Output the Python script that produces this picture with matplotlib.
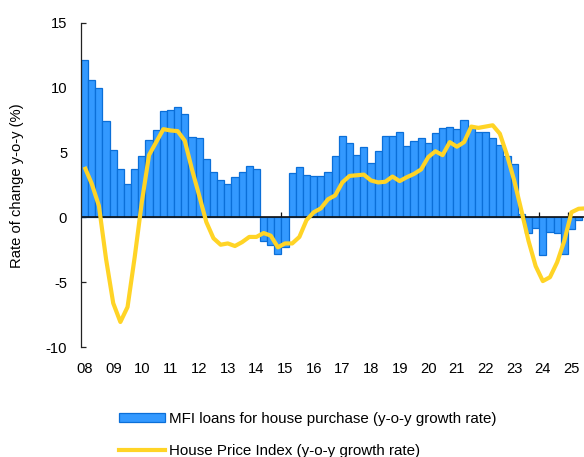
import matplotlib
matplotlib.use("Agg")
import matplotlib.pyplot as plt
from matplotlib.patches import Patch
from matplotlib.lines import Line2D

plt.rcParams['font.family'] = ['Liberation Sans', 'DejaVu Sans']
plt.rcParams['axes.unicode_minus'] = False

# Year tick labels (2008-2025), quarterly data
year_labels = ["08", "09", "10", "11", "12", "13", "14", "15", "16",
               "17", "18", "19", "20", "21", "22", "23", "24", "25"]

# MFI loans for house purchase, y-o-y growth (%), quarterly 2008Q1-2025Q2
mfi_loans = [12.1, 10.6, 10.0, 7.4, 5.2, 3.7, 2.6, 3.7, 4.7, 6.0,
             6.7, 8.2, 8.3, 8.5, 8.0, 6.2, 6.1, 4.5, 3.5, 2.9,
             2.6, 3.1, 3.5, 4.0, 3.7, -1.8, -2.1, -2.8, -2.3, 3.4,
             3.9, 3.3, 3.2, 3.2, 3.5, 4.7, 6.3, 5.7, 4.8, 5.4,
             4.2, 5.1, 6.3, 6.3, 6.6, 5.5, 5.9, 6.1, 5.7, 6.5,
             6.9, 7.0, 6.8, 7.5, 7.0, 6.6, 6.6, 6.1, 5.6, 4.7,
             4.1, 0.3, -1.2, -0.8, -2.9, -1.1, -1.2, -2.8, -0.9, -0.2]

# House Price Index, y-o-y growth (%), quarterly 2008Q1-2025Q3
hpi = [3.9, 2.6, 0.9, -3.2, -6.6, -8.05, -6.9, -3.05, 1.2, 4.8,
       5.8, 6.8, 6.7, 6.65, 5.9, 3.7, 1.7, -0.35, -1.6, -2.1,
       -2.0, -2.2, -1.9, -1.5, -1.5, -1.2, -1.4, -2.3, -2.0, -2.0,
       -1.5, -0.2, 0.4, 0.7, 1.4, 1.7, 2.7, 3.2, 3.25, 3.3,
       2.85, 2.7, 2.75, 3.15, 2.8, 3.1, 3.35, 3.7, 4.65, 5.1,
       4.8, 5.8, 5.45, 5.8, 7.0, 6.9, 7.0, 7.1, 6.45, 4.8,
       2.85, 0.55, -1.8, -3.75, -4.9, -4.6, -3.45, -1.8, 0.4, 0.67,
       0.7]

bar_color = '#3399ff'
bar_edge = '#0b6fd8'
line_color = '#ffd426'
fs = 10.6
lfs = 10.9

W, H = 584, 457
fig = plt.figure(figsize=(W / 100, H / 100), dpi=100)
ax = fig.add_axes([81 / W, (H - 347.3) / H, (W - 81) / W, 324.6 / H])

xb = list(range(len(mfi_loans)))
xl = list(range(len(hpi)))
ax.bar(xb, mfi_loans, width=1.0, color=bar_color, edgecolor=bar_edge,
       linewidth=0.9, zorder=2)
ax.axhline(0, color='#111111', lw=1.2, zorder=2.5)
ax.plot(xl, hpi, color=line_color, lw=3.0, solid_joinstyle='round',
        solid_capstyle='butt', zorder=3)

ax.set_ylim(-10, 15)
ax.set_xlim(-0.5, 69.75)
ax.set_yticks([-10, -5, 0, 5, 10, 15])
ax.set_yticklabels(["-10", "-5", "0", "5", "10", "15"])
ax.tick_params(axis='y', direction='in', length=3.6, width=0.9, pad=10,
               labelsize=fs, color='#222222')

first_q = [4 * i for i in range(len(year_labels))]
ax.set_xticks(first_q)
ax.set_xticklabels(year_labels)
ax.tick_params(axis='x', length=0, pad=10.5, labelsize=fs)

for s in ['top', 'right', 'bottom']:
    ax.spines[s].set_visible(False)
ax.spines['left'].set_linewidth(0.9)
ax.spines['left'].set_color('#222222')

# year boundary ticks on the zero line
sec = ax.secondary_xaxis(10 / 25)
sec.set_xticks([4 * i - 0.5 for i in range(1, len(year_labels))])
sec.set_xticklabels([])
sec.tick_params(axis='x', direction='in', length=3.4, width=0.9, color='#111111')
sec.spines['bottom'].set_visible(False)

fig.text(17 / W, 1 - 186 / H, "Rate of change y-o-y (%)", rotation=90,
         ha='center', va='center', fontsize=fs)

handles = [Patch(facecolor=bar_color, edgecolor=bar_edge, linewidth=0.9),
           Line2D([0], [0], color=line_color, lw=3.0)]
labels = ["MFI loans for house purchase (y-o-y growth rate)",
          "House Price Index (y-o-y growth rate)"]
fig.legend(handles, labels, loc='upper left',
           bbox_to_anchor=(119 / W, 1 - 412 / H), frameon=False,
           fontsize=lfs, handlelength=3.05, handleheight=0.6,
           handletextpad=0.27, labelspacing=1.2, borderpad=0,
           borderaxespad=0)

fig.savefig("out.png", dpi=100)
